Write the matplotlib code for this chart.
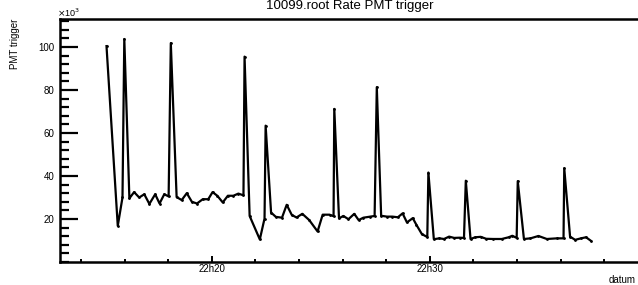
import matplotlib
matplotlib.use('Agg')
import matplotlib.pyplot as plt
import matplotlib.dates as mdates
from matplotlib.ticker import MultipleLocator
import pandas as pd

plt.rcParams['font.family'] = ['Liberation Sans', 'DejaVu Sans']

# readout times (minute:second after 22h00) and PMT trigger rate (x10^3)
times = [
    "15:10", "15:41", "15:54", "15:59", "16:13", "16:26", "16:40", "16:54", "17:08", "17:24",
    "17:36", "17:49", "18:01", "18:07", "18:23", "18:37", "18:51", "19:05", "19:19", "19:35",
    "19:50", "20:02", "20:15", "20:30", "20:44", "20:59", "21:13", "21:27", "21:30", "21:44",
    "22:12", "22:25", "22:28", "22:43", "22:56", "23:13", "23:26", "23:40", "23:53", "24:09",
    "24:28", "24:51", "25:05", "25:24", "25:35", "25:37", "25:50", "26:02", "26:16", "26:32",
    "26:44", "26:57", "27:16", "27:28", "27:34", "27:46", "28:02", "28:17", "28:32", "28:45",
    "28:57", "29:13", "29:23", "29:38", "29:53", "29:56", "30:11", "30:26", "30:39", "30:53",
    "31:07", "31:22", "31:34", "31:39", "31:52", "32:05", "32:20", "32:35", "32:54", "33:18",
    "33:37", "33:47", "33:59", "34:02", "34:19", "34:37", "34:59", "35:22", "35:50", "36:08",
    "36:10", "36:26", "36:40", "36:56", "37:10", "37:23",
]
rate = [
    100.4, 16.8, 30.0, 103.7, 29.6, 32.5, 30.0, 31.5, 27.0, 31.5,
    27.2, 31.5, 30.5, 101.8, 30.2, 28.8, 32.0, 28.0, 27.2, 29.2,
    29.2, 32.5, 30.8, 27.7, 30.8, 30.8, 31.8, 31.0, 95.5, 21.4,
    10.5, 20.2, 63.4, 23.0, 21.0, 20.6, 26.6, 21.9, 20.7, 22.4,
    19.5, 14.2, 22.0, 22.0, 21.3, 71.2, 20.3, 21.4, 19.9, 22.4,
    19.5, 20.6, 21.1, 21.4, 81.3, 21.5, 21.1, 21.1, 20.8, 22.6,
    18.4, 20.4, 17.3, 13.0, 11.6, 41.6, 10.6, 11.0, 10.7, 11.8,
    11.2, 11.3, 11.2, 37.8, 10.7, 11.5, 11.7, 10.8, 10.7, 10.7,
    11.5, 12.2, 11.2, 37.6, 10.7, 11.0, 12.1, 10.7, 11.0, 11.0,
    43.6, 11.8, 10.3, 11.0, 11.5, 9.9,
]

day = pd.Timestamp("2024-01-01 22:00:00")
t = [day + pd.Timedelta(minutes=int(s.split(":")[0]), seconds=int(s.split(":")[1])) for s in times]

fig = plt.figure(figsize=(6.38, 2.85), dpi=100)
ax = fig.add_axes([60 / 638, 23 / 285, 578 / 638, 243 / 285])

ax.plot(t, rate, color='black', lw=1.6, marker='o', ms=1.0)

ax.set_xlim(day + pd.Timedelta(minutes=13, seconds=2), day + pd.Timedelta(minutes=39, seconds=33))
ax.set_ylim(0, 113)

ax.xaxis.set_major_locator(mdates.MinuteLocator(byminute=[0, 10, 20, 30, 40, 50]))
ax.xaxis.set_minor_locator(mdates.MinuteLocator(byminute=range(0, 60, 2)))
ax.xaxis.set_major_formatter(mdates.DateFormatter('%Hh%M'))
ax.yaxis.set_major_locator(MultipleLocator(20))
ax.yaxis.set_minor_locator(MultipleLocator(4))
ax.set_yticks([20, 40, 60, 80, 100])

for s in ['left', 'bottom', 'top']:
    ax.spines[s].set_linewidth(1.8)
ax.spines['right'].set_visible(False)

ax.tick_params(axis='y', which='major', direction='in', length=13, width=1.6, labelsize=7, pad=4)
ax.tick_params(axis='y', which='minor', direction='in', length=6.5, width=1.6)
ax.tick_params(axis='x', which='major', direction='in', length=4.5, width=1.4, labelsize=7, pad=1.5)
ax.tick_params(axis='x', which='minor', direction='in', length=2.3, width=1.4)

fig.text(15 / 638, 1 - 44 / 285, 'PMT trigger', rotation=90, fontsize=7, ha='center', va='center')
fig.text(57 / 638, 1 - 17 / 285, r'$\times$10$^{3}$', fontsize=6.5, ha='left', va='baseline')
fig.text(636 / 638, 1 - 283 / 285, 'datum', fontsize=7, ha='right', va='baseline')
fig.text(350 / 638, 1 - 9 / 285, '10099.root Rate PMT trigger', fontsize=9.5, ha='center', va='baseline')

fig.savefig('out.png', dpi=100)
